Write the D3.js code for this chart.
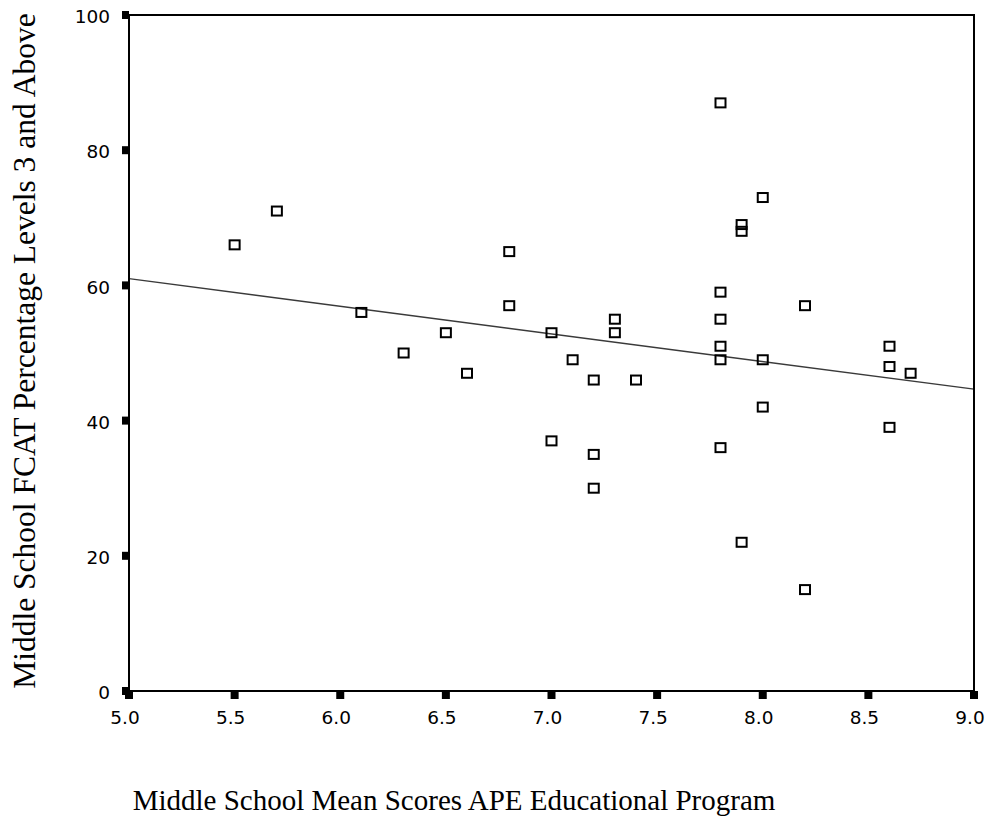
<!DOCTYPE html>
<html>
<head>
<meta charset="utf-8">
<script src="https://cdn.jsdelivr.net/npm/d3@7"></script>
<style>
  body { margin: 0; background: #fff; }
  svg { display: block; }
  .tick-label { font-family: "DejaVu Sans", sans-serif; font-size: 18.5px; fill: #000; }
  .title { font-family: "Liberation Serif", "Times New Roman", serif; fill: #000; }
</style>
</head>
<body>
<div id="chart"></div>
<script>
// school mean APE scores (x) and FCAT % levels 3+ (y)
var apeScores = [5.5, 5.7, 6.1, 6.3, 6.5, 6.6, 6.8, 6.8, 7.0, 7.0, 7.1, 7.2, 7.2, 7.2,
                 7.3, 7.3, 7.4, 7.8, 7.8, 7.8, 7.8, 7.8, 7.8, 7.9, 7.9, 7.9, 8.0, 8.0,
                 8.0, 8.2, 8.2, 8.6, 8.6, 8.6, 8.7];
var fcatPct = [66, 71, 56, 50, 53, 47, 65, 57, 53, 37, 49, 46, 35, 30,
               55, 53, 46, 87, 59, 55, 51, 49, 36, 69, 68, 22, 73, 49,
               42, 57, 15, 51, 48, 39, 47];
var xTicks = [5.0, 5.5, 6.0, 6.5, 7.0, 7.5, 8.0, 8.5, 9.0];
var yTicks = [0, 20, 40, 60, 80, 100];
var xTitle = "Middle School Mean Scores APE Educational Program";
var yTitle = "Middle School FCAT Percentage Levels 3 and Above";

var W = 985, H = 824;
var m = {left: 129, top: 15, right: 11, bottom: 133};
var iw = W - m.left - m.right, ih = H - m.top - m.bottom;

var x = d3.scaleLinear().domain([5, 9]).range([0, iw]);
var y = d3.scaleLinear().domain([0, 100]).range([ih, 0]);

var svg = d3.select("#chart").append("svg").attr("width", W).attr("height", H);
var g = svg.append("g").attr("transform", "translate(" + m.left + "," + m.top + ")");

// least squares fit line
var pts = apeScores.map(function (d, i) { return [d, fcatPct[i]]; });
var mx = d3.mean(apeScores), my = d3.mean(fcatPct);
var sxy = d3.sum(pts, function (p) { return (p[0] - mx) * (p[1] - my); });
var sxx = d3.sum(pts, function (p) { return (p[0] - mx) * (p[0] - mx); });
var slope = sxy / sxx, icpt = my - slope * mx;

g.append("line")
  .attr("x1", x(5)).attr("y1", y(icpt + slope * 5))
  .attr("x2", x(9)).attr("y2", y(icpt + slope * 9))
  .attr("stroke", "#3a3a3a").attr("stroke-width", 1.4);

// frame
g.append("rect").attr("x", 0).attr("y", 0).attr("width", iw).attr("height", ih)
  .attr("fill", "none").attr("stroke", "#000").attr("stroke-width", 2);

// axes with square tick marks
var xAxis = g.append("g").attr("transform", "translate(0," + ih + ")");
xAxis.selectAll("rect").data(xTicks).enter().append("rect")
  .attr("x", function (d) { return x(d) - 4; }).attr("y", 0)
  .attr("width", 8).attr("height", 8).attr("fill", "#000");
xAxis.selectAll("text").data(xTicks).enter().append("text")
  .attr("class", "tick-label")
  .attr("x", function (d) { return x(d) - 4; }).attr("y", 33)
  .attr("text-anchor", "middle")
  .text(d3.format(".1f"));

var yAxis = g.append("g");
yAxis.selectAll("rect").data(yTicks).enter().append("rect")
  .attr("x", -7).attr("y", function (d) { return y(d) - 4; })
  .attr("width", 7).attr("height", 8).attr("fill", "#000");
yAxis.selectAll("text").data(yTicks).enter().append("text")
  .attr("class", "tick-label")
  .attr("x", -19).attr("y", function (d) { return y(d) + 1.5; })
  .attr("dy", "0.36em")
  .attr("text-anchor", "end")
  .text(function (d) { return d; });

// points
g.selectAll(".pt").data(pts).enter().append("rect")
  .attr("class", "pt")
  .attr("x", function (p) { return x(p[0]) - 5; })
  .attr("y", function (p) { return y(p[1]) - 4.5; })
  .attr("width", 10).attr("height", 9)
  .attr("fill", "none").attr("stroke", "#000").attr("stroke-width", 2);

// titles
svg.append("text").attr("class", "title")
  .style("font-size", "29px")
  .attr("x", 454).attr("y", 810).attr("text-anchor", "middle")
  .text(xTitle);
svg.append("text").attr("class", "title")
  .style("font-size", "31.5px")
  .attr("transform", "translate(35," + 351 + ") rotate(-90)")
  .attr("text-anchor", "middle")
  .text(yTitle);
</script>
</body>
</html>
